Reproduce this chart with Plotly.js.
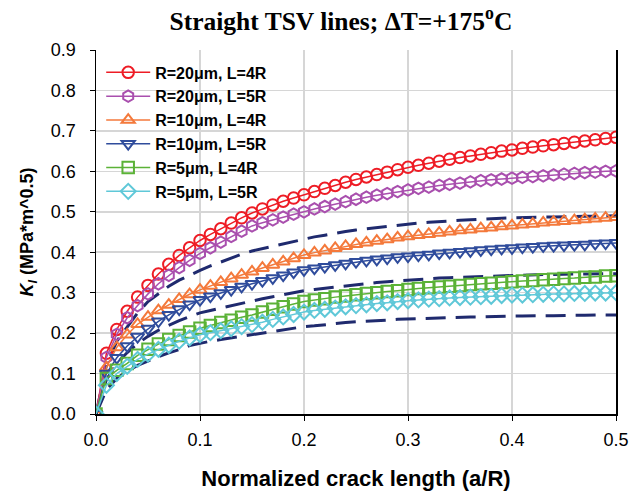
<!DOCTYPE html>
<html>
<head>
<meta charset="utf-8">
<script src="https://cdn.plot.ly/plotly-3.0.1.min.js"></script>
<style>html,body{margin:0;padding:0;background:#fff;}#chart{width:629px;height:491px;}</style>
</head>
<body>
<div id="chart"></div>
<script>
// Normalized crack length a/R
const crackLength = [0.00,0.01,0.02,0.03,0.04,0.05,0.06,0.07,0.08,0.09,0.10,
  0.11,0.12,0.13,0.14,0.15,0.16,0.17,0.18,0.19,0.20,
  0.21,0.22,0.23,0.24,0.25,0.26,0.27,0.28,0.29,0.30,
  0.31,0.32,0.33,0.34,0.35,0.36,0.37,0.38,0.39,0.40,
  0.41,0.42,0.43,0.44,0.45,0.46,0.47,0.48,0.49,0.50];

const seriesNames = ["R=20\u03bcm, L=4R","R=20\u03bcm, L=5R","R=10\u03bcm, L=4R","R=10\u03bcm, L=5R","R=5\u03bcm, L=4R","R=5\u03bcm, L=5R"];

const kR20L4 = [0,.150,.209,.254,.289,.318,.346,.370,.392,.411,.429,
  .444,.458,.472,.485,.497,.507,.517,.526,.534,.542,
  .550,.558,.565,.573,.580,.586,.592,.598,.604,.610,
  .615,.620,.625,.630,.634,.638,.642,.646,.650,.653,
  .657,.660,.663,.666,.669,.672,.675,.678,.681,.684];
const kR20L5 = [0,.140,.197,.238,.268,.297,.322,.343,.362,.380,.397,
  .411,.425,.439,.452,.465,.473,.480,.487,.494,.500,
  .507,.513,.519,.525,.531,.536,.541,.545,.550,.554,
  .558,.561,.565,.568,.571,.574,.577,.579,.581,.583,
  .585,.587,.589,.591,.593,.595,.597,.598,.600,.601];
const kR10L4 = [0,.115,.165,.196,.222,.240,.256,.270,.284,.296,.307,
  .317,.326,.335,.344,.352,.361,.369,.377,.385,.393,
  .399,.404,.410,.415,.420,.424,.428,.432,.436,.439,
  .442,.445,.448,.451,.454,.456,.459,.461,.464,.466,
  .468,.470,.473,.475,.477,.479,.481,.483,.485,.487];
const kR10L5 = [0,.100,.139,.168,.191,.211,.229,.245,.259,.271,.282,
  .291,.299,.307,.315,.322,.329,.336,.343,.350,.356,
  .360,.364,.368,.372,.376,.379,.382,.385,.388,.390,
  .392,.394,.397,.399,.401,.403,.405,.407,.409,.410,
  .412,.413,.415,.416,.417,.418,.419,.421,.422,.423];
const kR5L4 = [0,.088,.108,.125,.145,.160,.173,.184,.194,.203,.212,
  .219,.226,.232,.239,.245,.252,.259,.265,.272,.278,
  .282,.285,.289,.292,.295,.298,.300,.303,.305,.308,
  .310,.312,.314,.316,.318,.320,.322,.323,.325,.327,
  .329,.330,.332,.333,.335,.336,.338,.339,.341,.342];
const kR5L5 = [0,.071,.100,.118,.135,.148,.160,.170,.180,.188,.196,
  .201,.206,.211,.216,.221,.227,.234,.240,.246,.252,
  .256,.259,.262,.265,.268,.270,.273,.275,.278,.280,
  .282,.284,.285,.287,.288,.289,.290,.291,.293,.294,
  .294,.295,.296,.297,.297,.298,.298,.299,.299,.300];

// Dashed reference curves
const kDashTop = [0,.120,.180,.215,.250,.278,.298,.316,.331,.344,.355,
  .366,.376,.386,.395,.403,.409,.415,.421,.427,.433,
  .438,.442,.447,.451,.455,.458,.461,.464,.467,.470,
  .472,.474,.476,.478,.479,.480,.482,.483,.484,.485,
  .486,.486,.487,.487,.488,.488,.489,.489,.490,.490];
const kDashMid = [0,.085,.125,.152,.174,.192,.207,.220,.231,.241,.250,
  .256,.262,.268,.274,.280,.285,.290,.295,.300,.305,
  .308,.311,.314,.317,.320,.322,.325,.327,.329,.331,
  .333,.334,.336,.337,.338,.339,.340,.341,.342,.343,
  .344,.344,.345,.345,.346,.346,.346,.347,.347,.347];
const kDashBot = [0,.060,.088,.106,.120,.132,.142,.151,.159,.169,.175,
  .180,.184,.188,.192,.196,.200,.204,.208,.212,.216,
  .218,.221,.223,.226,.228,.229,.231,.232,.234,.235,
  .236,.237,.238,.238,.239,.240,.240,.241,.241,.242,
  .242,.243,.243,.243,.244,.244,.244,.245,.245,.245];

const xTickVals = [0,0.1,0.2,0.3,0.4,0.5];
const yTickVals = [0,0.1,0.2,0.3,0.4,0.5,0.6,0.7,0.8,0.9];

const seriesData = [kR20L4,kR20L5,kR10L4,kR10L5,kR5L4,kR5L5];
const seriesColors = ["#ee1c25","#a94fae","#f4793b","#2f4c9c","#5bb237","#5fc8d8"];
const seriesSymbols = ["circle-open","hexagon-open","triangle-up-open","triangle-down-open","square-open","diamond-open"];

const traces = [];
[kDashTop,kDashMid,kDashBot].forEach(d => {
  traces.push({x: crackLength, y: d, type:'scatter', mode:'lines', showlegend:false,
    line:{color:'#1f2a6e', width:3, dash:'20px,10px'}, hoverinfo:'skip'});
});
seriesData.forEach((d,i) => {
  traces.push({x: crackLength, y: d, type:'scatter', mode:'lines+markers', name: seriesNames[i],
    line:{color: seriesColors[i], width:1.5},
    marker:{symbol: seriesSymbols[i], size:11.5, color: seriesColors[i], line:{color: seriesColors[i], width:2}}});
});

const sans = 'Arial, "Liberation Sans", sans-serif';
const layout = {
  width: 629, height: 491,
  margin: {l: 96, r: 13, t: 50, b: 77},
  paper_bgcolor: '#fff', plot_bgcolor: '#fff',
  title: {text: '<b>Straight TSV lines; \u0394T=+175<sup>o</sup>C</b>', x: 0.542, xanchor: 'center', y: 0.958, yanchor: 'middle',
    font: {family: '"Liberation Serif", "Times New Roman", serif', size: 25.5, weight: 'bold', color: '#000'}},
  xaxis: {range: [0, 0.5], tickvals: xTickVals, tickformat: '.1f', showgrid: true, gridcolor: '#d6d6d6', gridwidth: 1.5,
    zeroline: false, showline: true, linecolor: '#000', linewidth: 1.5, ticks: 'outside', ticklen: 5, tickcolor: '#000',
    ticklabelstandoff: 4,
    tickfont: {family: sans, size: 18, color: '#000'},
    title: {text: '<b>Normalized crack length (a/R)</b>', standoff: 23,
      font: {family: sans, size: 22, color: '#000'}}},
  yaxis: {range: [0, 0.9], tickvals: yTickVals, tickformat: '.1f', showgrid: true, gridcolor: '#d6d6d6', gridwidth: 1.5,
    zeroline: false, showline: true, mirror: true, linecolor: '#000', linewidth: 1.5, ticks: 'outside', ticklen: 5, tickcolor: '#000',
    ticklabelstandoff: 10,
    tickfont: {family: sans, size: 18, color: '#000'},
    title: {text: '<b><i>K<sub>I</sub></i> (MPa*m^0.5)</b>', standoff: 12,
      font: {family: sans, size: 18, color: '#000'}}},
  legend: {x: 0.01, y: 0.985, xanchor: 'left', yanchor: 'top', bgcolor: 'rgba(255,255,255,0)', borderwidth: 0,
    itemwidth: 44, tracegroupgap: 0,
    font: {family: sans, size: 16, color: '#000', weight: 'bold'}},
  showlegend: true
};

Plotly.newPlot('chart', traces, layout, {staticPlot: true, displayModeBar: false});
</script>
</body>
</html>
